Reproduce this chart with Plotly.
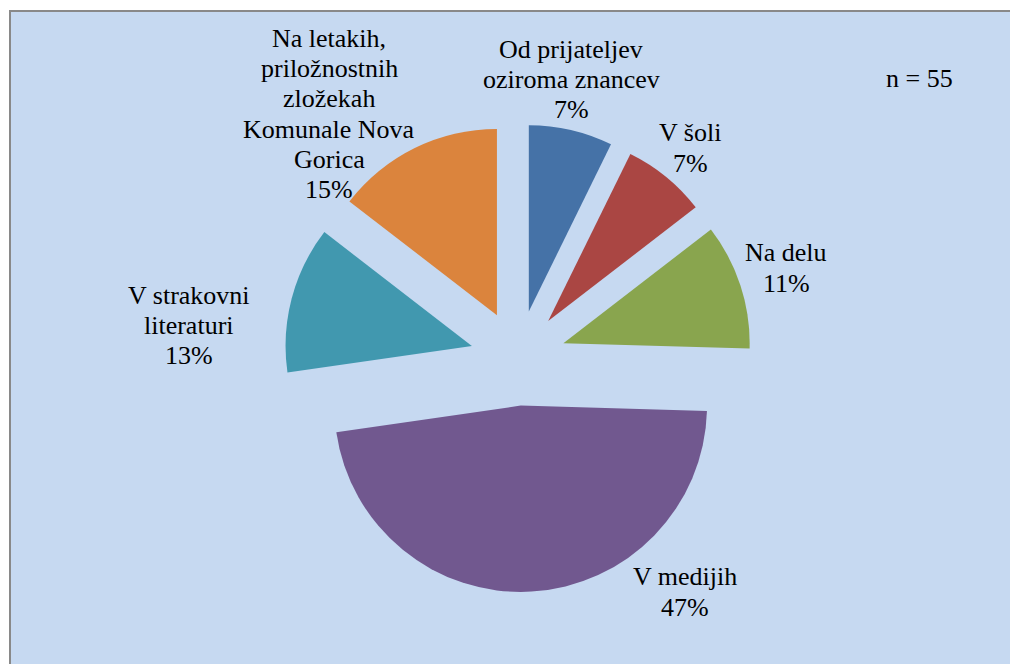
import plotly.graph_objects as go

# ---- data ----
categories = [
    "Od prijateljev\noziroma znancev",
    "V šoli",
    "Na delu",
    "V medijih",
    "V strakovni\nliteraturi",
    "Na letakih,\npriložnostnih\nzložekah\nKomunale Nova\nGorica",
]
counts = [4, 4, 6, 26, 7, 8]
n_label = "n = 55"
colors = ["#4572A7", "#AA4643", "#89A54E", "#71588F", "#4198AF", "#DB843D"]

# ---- layout constants (pixels) ----
W, H = 1010, 664
FONT = '"Liberation Serif", "Times New Roman", Times, serif'
FS = 26
LINE = 30.2
# label anchor: (center x, first-line baseline y) in pixels from top-left
label_pos = [(571, 58.3), (690, 141.7), (786, 261.7), (685, 585.7), (189, 304.3), (329, 47.3)]
pull = 0.256
cx, cy, half = 518, 358, 234

def px(x):
    return x / W

def py(y):
    return 1 - y / H

total = sum(counts)
pcts = [f"{round(100 * c / total)}%" for c in counts]

fig = go.Figure()
fig.add_trace(go.Pie(
    labels=[c.replace("\n", " ") for c in categories],
    values=counts,
    sort=False,
    direction="clockwise",
    rotation=0,
    pull=[pull] * len(counts),
    marker=dict(colors=colors, line=dict(width=0)),
    textinfo="none",
    showlegend=False,
    domain=dict(x=[px(cx - half), px(cx + half)], y=[py(cy + half), py(cy - half)]),
))

annotations = []
baseline_off = 0.34 * FS
for cat, pct, (x, y0) in zip(categories, pcts, label_pos):
    lines = cat.split("\n") + [pct]
    for i, ln in enumerate(lines):
        yb = y0 + i * LINE
        annotations.append(dict(
            text=ln, x=px(x), y=py(yb - baseline_off), xref="paper", yref="paper",
            xanchor="center", yanchor="middle", showarrow=False,
            font=dict(family=FONT, size=FS, color="#000000"),
        ))
annotations.append(dict(
    text=n_label, x=px(919), y=py(87.3 - baseline_off), xref="paper", yref="paper",
    xanchor="center", yanchor="middle", showarrow=False,
    font=dict(family=FONT, size=FS, color="#000000"),
))

shapes = [dict(
    type="rect", xref="paper", yref="paper",
    x0=px(10), x1=1.02, y0=-0.02, y1=py(11),
    fillcolor="#C6D9F1", line=dict(color="#898989", width=2), layer="below",
)]

fig.update_layout(
    width=W, height=H,
    margin=dict(l=0, r=0, t=0, b=0),
    paper_bgcolor="#FFFFFF",
    plot_bgcolor="rgba(0,0,0,0)",
    font=dict(family=FONT),
    annotations=annotations,
    shapes=shapes,
)

fig.write_html(
    "out.html",
    config={"displayModeBar": False},
    post_script="document.body.style.margin='0';document.body.style.padding='0';document.body.style.overflow='hidden';",
)
